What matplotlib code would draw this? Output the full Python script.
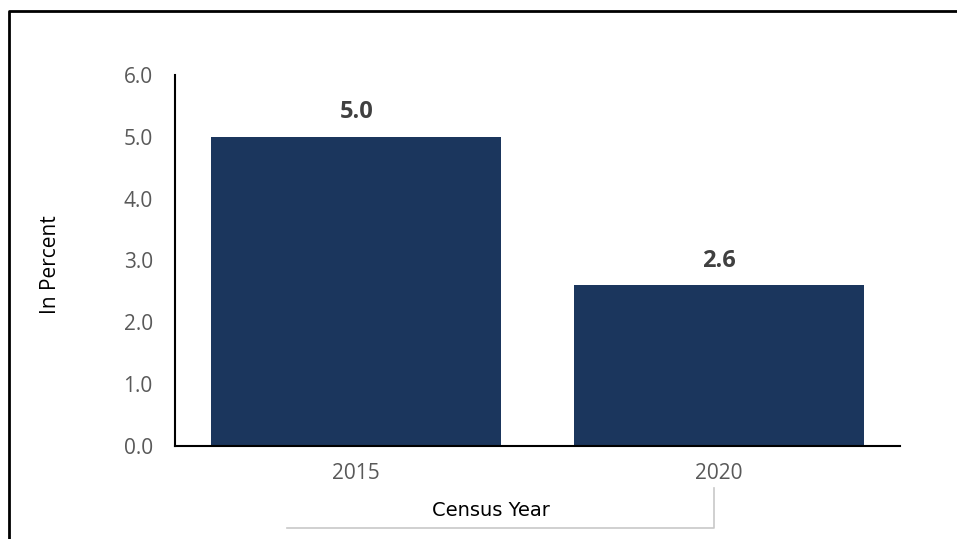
import matplotlib.pyplot as plt
from matplotlib.lines import Line2D

years = ["2015", "2020"]
percent = [5.0, 2.6]
yticks = [0.0, 1.0, 2.0, 3.0, 4.0, 5.0, 6.0]

bar_color = "#1b365d"
tick_color = "#595959"

plt.rcParams["font.family"] = ["Open Sans", "DejaVu Sans"]

fig = plt.figure(figsize=(9.57, 5.39), dpi=100)
ax = fig.add_axes([175 / 957, 1 - 446 / 539, 725 / 957, 371 / 539])

x = range(len(years))
bars = ax.bar(x, percent, width=0.8, color=bar_color)
for xi, v in zip(x, percent):
    ax.annotate(f"{v:.1f}", (xi, v), xytext=(0, 9), textcoords="offset points",
                ha="center", va="bottom", fontsize=17, fontweight="bold",
                color="#404040")

ax.set_xlim(-0.5, 1.5)
ax.set_ylim(0, 6)
ax.set_xticks(list(x))
ax.set_xticklabels(years)
ax.set_yticks(yticks)
ax.set_yticklabels([f"{t:.1f}" for t in yticks])
ax.tick_params(axis="both", length=0, labelsize=15, labelcolor=tick_color)
ax.tick_params(axis="x", pad=12)
ax.tick_params(axis="y", pad=16)
for side in ["top", "right"]:
    ax.spines[side].set_visible(False)
ax.spines["left"].set_linewidth(1.5)
ax.spines["bottom"].set_linewidth(1.5)

fig.text(50 / 957, 1 - 265 / 539, "In Percent", rotation=90, ha="center",
         va="center", fontsize=15, color="black")
fig.text(491 / 957, 1 - 510 / 539, "Census Year", ha="center", va="center",
         fontsize=14, color="black", family=["DejaVu Sans"])

# grey bracket under the axis title
fig.add_artist(Line2D([287 / 957, 714 / 957, 714 / 957],
                      [1 - 528 / 539, 1 - 528 / 539, 1 - 488 / 539],
                      color="#c8c8c8", lw=1.2))

# outer frame (left and top visible)
fig.add_artist(Line2D([9 / 957, 9 / 957, 1.0],
                      [0.0, 1 - 11 / 539, 1 - 11 / 539],
                      color="black", lw=2))

fig.savefig("out.png", dpi=100)
